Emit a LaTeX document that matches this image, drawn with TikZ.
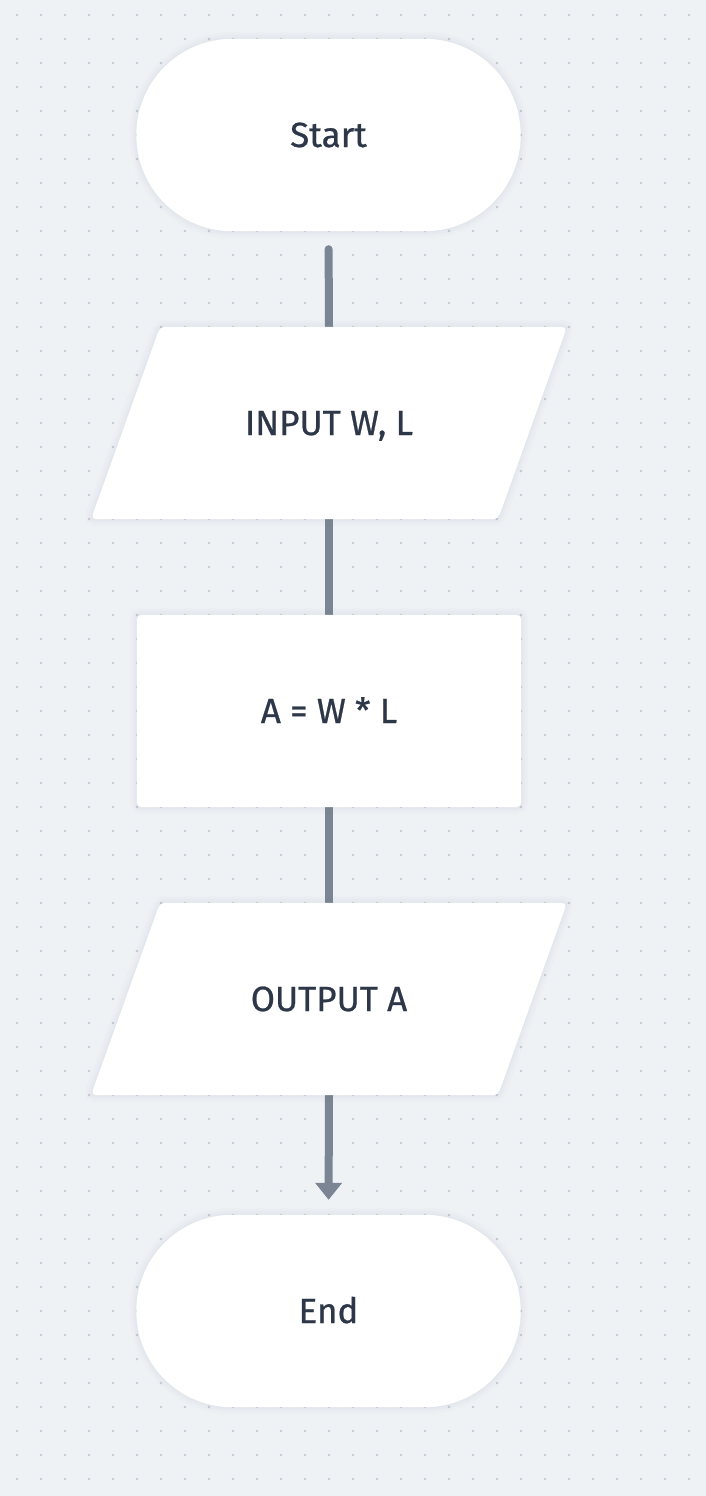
\documentclass[tikz,border=0pt]{standalone}
\usepackage{fontspec}
\setmainfont{Fira Sans}[FakeBold=0.7]
\usetikzlibrary{arrows.meta}
\definecolor{bgcol}{HTML}{EFF2F5}
\definecolor{dotcol}{HTML}{C4CBD5}
\definecolor{linecol}{HTML}{7B8594}
\definecolor{txtcol}{HTML}{2D3748}
\definecolor{halocol}{HTML}{5A6478}
\pgfdeclarelayer{lines}
\pgfdeclarelayer{shapes}
\pgfsetlayers{lines,shapes,main}
\tikzset{
  label text/.style={text=txtcol, font=\fontsize{35}{40}\selectfont, inner sep=0pt, text height=24pt, text depth=0pt, minimum height=192pt},
  termbox/.style={label text, minimum width=384pt},
  iobox/.style={label text, minimum width=407pt},
  procbox/.style={label text, minimum width=384pt},
  halo/.style={draw=halocol, draw opacity=0.025, line width=#1},
  shapefill/.style={fill=white, preaction={halo=14pt}, preaction={halo=8pt}, preaction={halo=3pt}},
  conn/.style={draw=linecol, line width=8pt},
  connarrow/.style={conn, -{Triangle[width=26pt,length=17pt]}},
}
\begin{document}
\begin{tikzpicture}[x=1pt,y=-1pt]
\begin{pgfonlayer}{lines}
\fill[bgcol] (0,0) rectangle (706,1496);
\foreach \i in {0,...,28}{
  \foreach \j in {0,...,61}{
    \fill[dotcol] (17+24*\i,15+24*\j) circle (1.4pt);
  }
}
\end{pgfonlayer}
\useasboundingbox (0,0) rectangle (706,1496);

\node[termbox] (start) at (328.5,135) {Start};
\node[iobox] (inp) at (329,423) {INPUT W, L};
\node[procbox] (calc) at (329,711) {A = W * L};
\node[iobox] (out) at (329,999) {OUTPUT A};
\node[termbox] (end) at (328.5,1311) {End};

\begin{pgfonlayer}{shapes}
\path[shapefill, rounded corners=96pt] (start.south west) rectangle (start.north east);
\path[shapefill, rounded corners=5pt] ([xshift=-169pt]inp.north) -- ([xshift=238pt]inp.north) -- ([xshift=169pt]inp.south) -- ([xshift=-238pt]inp.south) -- cycle;
\path[shapefill, rounded corners=5pt] (calc.south west) rectangle (calc.north east);
\path[shapefill, rounded corners=5pt] ([xshift=-169pt]out.north) -- ([xshift=238pt]out.north) -- ([xshift=169pt]out.south) -- ([xshift=-238pt]out.south) -- cycle;
\path[shapefill, rounded corners=96pt] (end.south west) rectangle (end.north east);
\end{pgfonlayer}

\begin{pgfonlayer}{lines}
\draw[conn, line cap=round, shorten <=18pt] (start.south) -- (inp.north);
\draw[conn] (inp.south) -- (calc.north);
\draw[conn] (calc.south) -- (out.north);
\draw[connarrow, shorten >=15pt] (out.south) -- (end.north);
\end{pgfonlayer}
\end{tikzpicture}
\end{document}
